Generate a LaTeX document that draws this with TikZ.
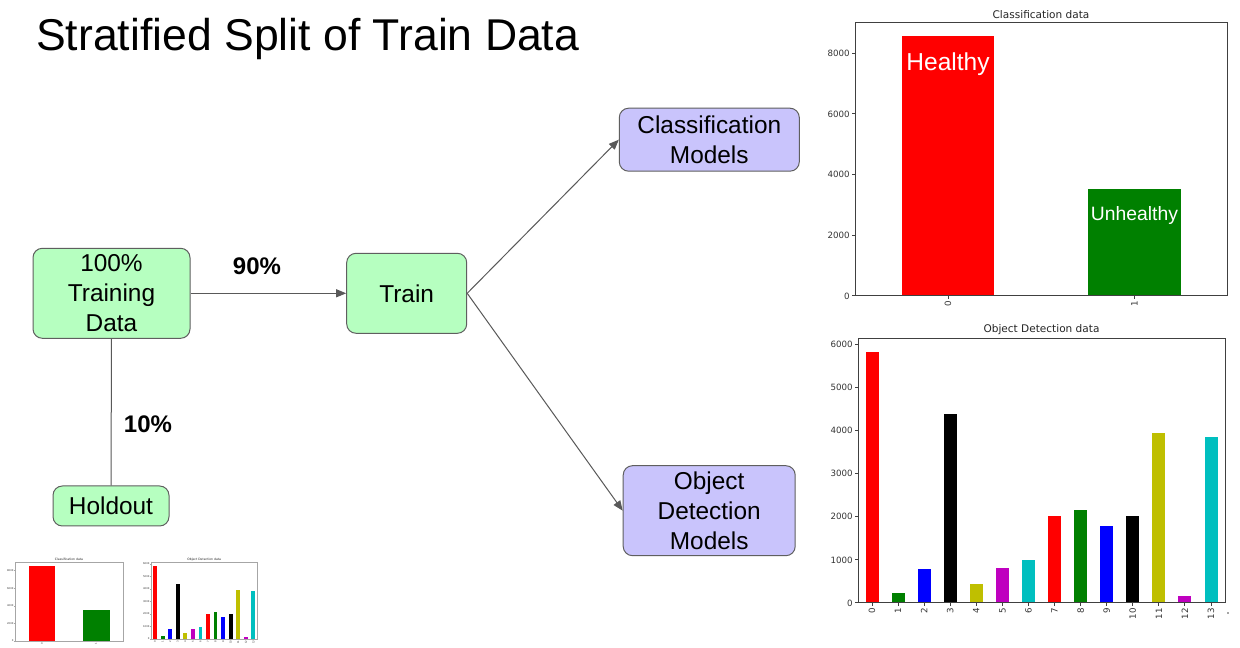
\documentclass[tikz,border=0pt]{standalone}
\usepackage{fontspec}
\setmainfont{Liberation Sans}
\newfontfamily\dejavu{DejaVu Sans}
\usetikzlibrary{arrows.meta}
\definecolor{boxgreen}{RGB}{182,255,192}
\definecolor{boxlav}{RGB}{201,196,252}
\definecolor{edgegray}{RGB}{95,95,95}
\definecolor{linegray}{RGB}{89,89,89}
\definecolor{mplgreen}{RGB}{0,128,0}
\definecolor{mply}{RGB}{191,191,0}
\definecolor{mplm}{RGB}{191,0,191}
\definecolor{mplc}{RGB}{0,191,191}
\tikzset{
 flowbox/.style={draw=edgegray, line width=0.75pt, rounded corners=7pt, align=center, inner sep=0pt, font=\fontsize{18.3}{22.5}\selectfont},
 conn/.style={draw=linegray, line width=0.75pt},
 arr/.style={conn, -{Triangle[length=7.5pt,width=6pt]}},
 pct/.style={font=\bfseries\fontsize{18}{22}\selectfont, inner sep=0pt},
 axisline/.style={draw=black!75, line width=0.75pt},
 ticklab/.style={font=\dejavu\fontsize{6.5}{7}\selectfont, text=black!80, inner sep=1pt},
 charttitle/.style={font=\dejavu\fontsize{7.9}{9}\selectfont, text=black!85, inner sep=1pt},
 barlab/.style={text=white, inner sep=0pt},
}
\newcommand\clschart[1]{%
 \fill[red] (47,0) rectangle (139,-260.3);
 \fill[mplgreen] (233,0) rectangle (326,-107);
 \foreach \v in {0,2000,4000,6000,8000}{
   \draw[axisline] (0,-\v*0.03034) -- ++(-3.5,0) node[ticklab, anchor=east] (#1y\v) {\v};}
 \foreach \i/\c in {0/93,1/279.5}{
   \draw[axisline] (\c,0) -- ++(0,3.5) node[ticklab, rotate=90, anchor=east] (#1x\i) {\i};}
 \draw[axisline] (0,0) rectangle (372,-273);
 \node[charttitle, anchor=south] (#1t) at (186,-276) {Classification data};
}
\newcommand\objchart[1]{%
 \foreach \i/\v/\col in {0/5814/red,1/225/mplgreen,2/788/blue,3/4376/black,4/448/mply,5/819/mplm,6/990/mplc,7/2018/red,8/2149/mplgreen,9/1793/blue,10/2018/black,11/3942/mply,12/170/mplm,13/3843/mplc}{
   \fill[\col] ({14+26.08*\i-6.5},0) rectangle ({14+26.08*\i+6.5},-\v*0.04312);
   \draw[axisline] ({14+26.08*\i},0) -- ++(0,3.5) node[ticklab, rotate=90, anchor=east] (#1x\i) {\i};
 }
 \foreach \v in {0,1000,2000,3000,4000,5000,6000}{
   \draw[axisline] (0,-\v*0.04312) -- ++(-3.5,0) node[ticklab, anchor=east] (#1y\v) {\v};}
 \draw[axisline] (0,0) rectangle (367,-264);
 \node[charttitle, anchor=south] (#1t) at (183.5,-267) {Object Detection data};
}
\begin{document}
\begin{tikzpicture}[x=0.75pt, y=-0.75pt]
\fill[white] (0,0) rectangle (1240,648);
\useasboundingbox (0,0) rectangle (1240,648);

\node[anchor=base west, inner sep=0pt, font=\fontsize{33.4}{40}\selectfont] (title) at (36,51) {Stratified Split of Train Data};

\node[flowbox, fill=boxgreen, minimum width=0.75*157pt, minimum height=0.75*90pt] (data) at (111.5,293.3) {100\%\\Training\\Data};
\node[flowbox, fill=boxgreen, minimum width=0.75*120pt, minimum height=0.75*80pt] (train) at (406.7,293.3) {Train};
\node[flowbox, fill=boxgreen, minimum width=0.75*116pt, minimum height=0.75*40pt] (hold) at (111,506) {Holdout};
\node[flowbox, fill=boxlav, minimum width=0.75*180pt, minimum height=0.75*63pt] (cls) at (709.3,139.7) {Classification\\Models};
\node[flowbox, fill=boxlav, minimum width=0.75*172pt, minimum height=0.75*90pt] (obj) at (709.2,510.7) {Object\\Detection\\Models};

\draw[arr] (data.east) -- (train.west);
\draw[conn] (data.south) -- (hold.north);
\draw[arr] (train.east) -- (cls.west);
\draw[arr] (train.east) -- (obj.west);
\node[pct] (p90) at (257,266) {90\%};
\node[pct] (p10) at (148,424) {10\%};

% big charts
\begin{scope}[shift={(855,296)}]
 \clschart{bc}
\end{scope}
\node[barlab, font=\fontsize{18.4}{22}\selectfont] (healthy) at (948,64) {Healthy};
\node[barlab, font=\fontsize{14.5}{18}\selectfont] (unhealthy) at (1134.5,216) {Unhealthy};
\begin{scope}[shift={(858,603)}]
 \objchart{bo}
\end{scope}
\fill[black!70] (1228,613) circle[radius=0.6pt];

% thumbnails
\begin{scope}[shift={(15,641)}, scale=0.29, transform shape, axisline/.style={draw=black!35, line width=0.35pt}]
 \clschart{tc}
\end{scope}
\begin{scope}[shift={(151,639)}, scale=0.29, transform shape, axisline/.style={draw=black!35, line width=0.35pt}]
 \objchart{to}
\end{scope}
\end{tikzpicture}
\end{document}
